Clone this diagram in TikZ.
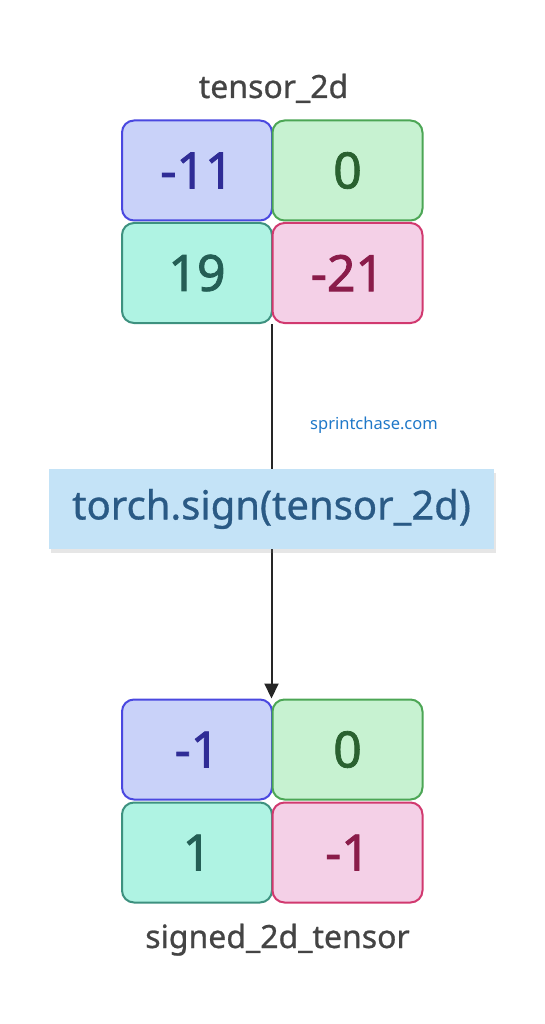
\documentclass[tikz,border=0pt]{standalone}
\usepackage{fontspec}
\setmainfont{Noto Sans}
\newfontfamily\cellfont[FakeBold=1.6]{Noto Sans}
\newfontfamily\namefont[FakeBold=0.8]{Noto Sans}
\usetikzlibrary{arrows.meta,shadows}

\definecolor{blueFill}{HTML}{C9D2F9}
\definecolor{blueLine}{HTML}{4A48E0}
\definecolor{blueText}{HTML}{2F2C96}
\definecolor{greenFill}{HTML}{C7F2D1}
\definecolor{greenLine}{HTML}{4CA655}
\definecolor{greenText}{HTML}{2A6130}
\definecolor{tealFill}{HTML}{AFF3E3}
\definecolor{tealLine}{HTML}{3D917F}
\definecolor{tealText}{HTML}{245E55}
\definecolor{pinkFill}{HTML}{F4D0E7}
\definecolor{pinkLine}{HTML}{D1396F}
\definecolor{pinkText}{HTML}{8A1C4A}
\definecolor{opFill}{HTML}{C4E3F7}
\definecolor{opText}{HTML}{2A5A85}
\definecolor{siteText}{HTML}{1F78C8}
\definecolor{labelText}{HTML}{444444}

\begin{document}
\begin{tikzpicture}[x=1pt,y=1pt,
    cell_node/.style={rounded corners=12pt,line width=2pt,minimum width=150pt,minimum height=100pt,inner sep=0pt,font=\cellfont\fontsize{50}{50}\selectfont},
    cell_blue/.style={cell_node,draw=blueLine,fill=blueFill,text=blueText},
    cell_green/.style={cell_node,draw=greenLine,fill=greenFill,text=greenText},
    cell_teal/.style={cell_node,draw=tealLine,fill=tealFill,text=tealText},
    cell_pink/.style={cell_node,draw=pinkLine,fill=pinkFill,text=pinkText},
    name_node/.style={anchor=base,text=labelText,font=\namefont\fontsize{32}{32}\selectfont},
    op_node/.style={fill=opFill,text=opText,minimum width=445pt,minimum height=80pt,inner sep=0pt,
        font=\namefont\fontsize{40}{40}\selectfont,drop shadow={opacity=0.2,shadow xshift=2pt,shadow yshift=-4pt}}]

    \useasboundingbox (0,0) rectangle (545,-1024);

    % input tensor
    \node[name_node] (in_name) at (273.5,-98) {tensor\_2d};
    \node[cell_blue]  (a11) at (197,-170.5) {-11};
    \node[cell_green] (a12) at (347.5,-170.5) {0};
    \node[cell_teal]  (a21) at (197,-273) {19};
    \node[cell_pink]  (a22) at (347.5,-273) {-21};

    % output tensor
    \node[cell_blue]  (b11) at (197,-749.5) {-1};
    \node[cell_green] (b12) at (347.5,-749.5) {0};
    \node[cell_teal]  (b21) at (197,-852.5) {1};
    \node[cell_pink]  (b22) at (347.5,-852.5) {-1};
    \node[name_node] (out_name) at (277.5,-948) {signed\_2d\_tensor};

    \draw[line width=2pt,color=black!85,-{Triangle[width=14pt,length=15pt]}] (a22.south west) -- (b12.north west);

    \node[op_node] (op) at (271.5,-509) {torch.sign(tensor\_2d)};
    \node[anchor=base,text=siteText,font=\fontsize{16.5}{16.5}\selectfont] (site) at (374,-429) {sprintchase.com};
\end{tikzpicture}
\end{document}
